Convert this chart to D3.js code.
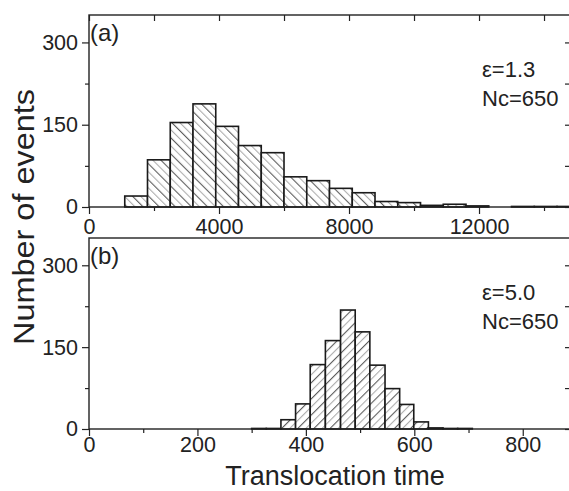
<!DOCTYPE html>
<html>
<head>
<meta charset="utf-8">
<script src="https://cdn.jsdelivr.net/npm/d3@7"></script>
<style>
  body { margin: 0; background: white; }
  text { font-family: "Liberation Sans", Arial, sans-serif; fill: #222; }
</style>
</head>
<body>
<div id="container"></div>
<script>
const canvasWidth = 569;
const canvasHeight = 491;

// panel (a): eps = 1.3, bin edges (last one closes the last bin) and counts
const edgesA = [-300, 400, 1100, 1800, 2500, 3200, 3900, 4600, 5300, 6000, 6700, 7400, 8100, 8800, 9500, 10200, 10900, 11600, 12300, 13000, 13700, 14400, 15100];
const countsA = [0, 0, 20, 86, 154, 188, 147, 112, 99, 55, 48, 34, 26, 10, 8, 3, 5, 2, 0, 1, 1, 1];
const ticksA = [0, 4000, 8000, 12000];
const minorA = [2000, 6000, 10000, 14000];

// panel (b): eps = 5.0
const edgesB = [300, 327, 354, 381, 408, 436, 464, 491, 518, 546, 573, 599, 626, 653, 680, 707];
const countsB = [1, 1, 17, 46, 118, 162, 218, 178, 117, 74, 45, 13, 2, 1, 1];
const ticksB = [0, 200, 400, 600, 800];
const minorB = [100, 300, 500, 700];

const yTicks = [0, 150, 300];
const yMinor = [75, 225];

const labelsA = ["(a)", "\u03b5=1.3", "Nc=650"];
const labelsB = ["(b)", "\u03b5=5.0", "Nc=650"];

const left = 89, right = 571;

let svg = d3.select("#container")
            .append("svg")
              .attr("width", canvasWidth)
              .attr("height", canvasHeight)
              .style("background-color", "white");

let defs = svg.append("defs");

// hatch patterns, dark and grey lines alternating
function makeHatch(id, angle){
  let p = defs.append("pattern")
              .attr("id", id)
              .attr("patternUnits", "userSpaceOnUse")
              .attr("width", 11.4)
              .attr("height", 10)
              .attr("patternTransform", "rotate(" + angle + ")");
  p.append("rect").attr("width", 11.4).attr("height", 10).attr("fill", "white");
  p.append("line").attr("x1", 0.6).attr("x2", 0.6).attr("y1", 0).attr("y2", 10)
   .attr("stroke", "#333").attr("stroke-width", 0.9);
  p.append("line").attr("x1", 6.3).attr("x2", 6.3).attr("y1", 0).attr("y2", 10)
   .attr("stroke", "#999").attr("stroke-width", 0.9);
}
makeHatch("hatchA", -45);
makeHatch("hatchB", 45);

function drawPanel(opt){
  let x = d3.scaleLinear().domain(opt.xDomain).range([left, right]);
  let y = d3.scaleLinear().domain([0, 350]).range([opt.bottom, opt.top]);

  let clipId = "clip" + opt.name;
  defs.append("clipPath").attr("id", clipId)
      .append("rect")
        .attr("x", left).attr("y", opt.top - 2)
        .attr("width", right - left).attr("height", opt.bottom - opt.top + 4);

  let g = svg.append("g").attr("class", "panel " + opt.name);

  let bins = opt.counts.map(function(c, i){ return {x0: opt.edges[i], x1: opt.edges[i + 1], n: c}; });

  g.append("g").attr("clip-path", "url(#" + clipId + ")")
    .selectAll(".bar").data(bins).enter().append("rect")
      .attr("class", "bar")
      .attr("x", function(d){ return x(d.x0); })
      .attr("y", function(d){ return y(d.n); })
      .attr("width", function(d){ return x(d.x1) - x(d.x0); })
      .attr("height", function(d){ return y(0) - y(d.n); })
      .attr("fill", "url(#" + opt.hatch + ")")
      .attr("stroke", "#1a1a1a")
      .attr("stroke-width", 1.6);

  // frame
  g.append("rect")
    .attr("x", left).attr("y", opt.top)
    .attr("width", right - left).attr("height", opt.bottom - opt.top)
    .attr("fill", "none").attr("stroke", "#222").attr("stroke-width", 1.4);

  // x axis
  g.append("g").attr("transform", "translate(0," + opt.bottom + ")")
    .call(d3.axisBottom(x).tickValues(opt.ticks).tickSize(7).tickPadding(opt.xPad).tickFormat(d3.format("d")));
  g.append("g").attr("transform", "translate(0," + opt.bottom + ")")
    .call(d3.axisBottom(x).tickValues(opt.minor).tickSize(4).tickFormat(""));
  if (opt.topTicks) {
    g.append("g").attr("transform", "translate(0," + opt.top + ")")
      .call(d3.axisBottom(x).tickValues(opt.ticks.concat(opt.minor)).tickSize(6).tickFormat(""));
  }

  // y axis
  g.append("g").attr("transform", "translate(" + left + ",0)")
    .call(d3.axisLeft(y).tickValues(yTicks).tickSize(7).tickPadding(4));
  g.append("g").attr("transform", "translate(" + left + ",0)")
    .call(d3.axisLeft(y).tickValues(yMinor).tickSize(4).tickFormat(""));
  g.append("g").attr("transform", "translate(" + right + ",0)")
    .call(d3.axisLeft(y).tickValues(yTicks.concat(yMinor)).tickSize(6).tickFormat(""));

  g.selectAll(".domain").remove();
  g.selectAll(".tick line").attr("stroke", "#222").attr("stroke-width", 1.2);
  g.selectAll(".tick text").style("font-size", "21.5px").attr("fill", "#222");

  // panel letters and parameters
  g.append("text").attr("x", 90).attr("y", opt.top + 26)
    .style("font-size", "24px").text(opt.labels[0]);
  g.append("text").attr("x", 482).attr("y", opt.top + 62)
    .style("font-size", "22px").text(opt.labels[1]);
  g.append("text").attr("x", 482).attr("y", opt.top + 91)
    .style("font-size", "22px").text(opt.labels[2]);
}

drawPanel({name: "a", edges: edgesA, counts: countsA, ticks: ticksA, minor: minorA,
           xDomain: [0, 14830], top: 15, bottom: 207, hatch: "hatchA", labels: labelsA,
           xPad: 5, topTicks: true});
drawPanel({name: "b", edges: edgesB, counts: countsB, ticks: ticksB, minor: minorB,
           xDomain: [0, 889], top: 238, bottom: 429, hatch: "hatchB", labels: labelsB,
           xPad: 1, topTicks: false});

// axis titles
svg.append("text")
  .attr("transform", "translate(34,217) rotate(-90)")
  .attr("text-anchor", "middle")
  .attr("textLength", 256)
  .attr("lengthAdjust", "spacingAndGlyphs")
  .style("font-size", "29px")
  .text("Number of events");

svg.append("text")
  .attr("x", 335).attr("y", 485)
  .attr("text-anchor", "middle")
  .style("font-size", "27px")
  .text("Translocation time");
</script>
</body>
</html>
